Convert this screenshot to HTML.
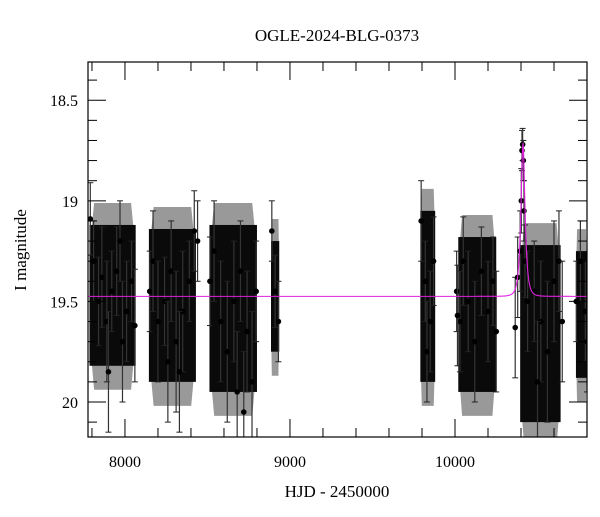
<!DOCTYPE html>
<html><head><meta charset="utf-8"><style>
body{margin:0;background:#fff}
text{font-family:"Liberation Serif","DejaVu Serif",serif}
</style></head><body>
<svg id="chart" width="600" height="512" font-family="Liberation Serif, serif">
<text x="337" y="41" text-anchor="middle" font-size="17" font-family="Liberation Serif, serif">OGLE-2024-BLG-0373</text>
<text x="337" y="497" text-anchor="middle" font-size="17" font-family="Liberation Serif, serif">HJD - 2450000</text>
<text x="26" y="250" text-anchor="middle" font-size="17" font-family="Liberation Serif, serif" transform="rotate(-90 26 250)">I magnitude</text>
<g id="data"></g>
<g id="axes"></g>
</svg>
<script>
const xTicks=[8000,9000,10000];
const yTicks=[18.5,19,19.5,20];
const yTickLabels=["18.5","19","19.5","20"];
// seasons: dense core bands
const seasonStart=[7785,8145,8512,8885,9790,10020,10395,10733];
const seasonEnd=[8065,8430,8800,8935,9880,10250,10640,10800];
const seasonTop=[19.12,19.14,19.12,19.2,19.05,19.18,19.22,19.25];
const seasonBot=[19.82,19.9,19.95,19.75,19.9,19.95,20.1,19.88];
// individual observations (time, mag, error)
const obsT=[7790,7810,7840,7860,7890,7920,7950,7985,8010,8040,8060,7900,7970,
8150,8170,8200,8240,8280,8310,8350,8390,8420,8440,8260,8330,
8515,8540,8580,8620,8660,8700,8740,8770,8795,8680,8720,
8890,8910,8930,9795,9820,9850,9870,9830,
10010,10030,10050,10080,10120,10160,10200,10230,10250,10015,
10365,10380,10395,10402,10406,10410,10414,10418,10424,10440,10480,10520,10560,10600,10630,10650,10500,
10735,10760,10790,10800];
const obsM=[19.09,19.3,19.5,19.38,19.6,19.45,19.35,19.7,19.55,19.4,19.62,19.85,19.2,
19.45,19.3,19.6,19.5,19.35,19.7,19.55,19.4,19.15,19.2,19.8,19.85,
19.4,19.25,19.6,19.75,19.5,19.35,19.65,19.9,19.45,19.95,20.05,
19.15,19.45,19.6,19.1,19.4,19.6,19.3,19.75,
19.45,19.6,19.3,19.5,19.7,19.35,19.55,19.4,19.65,19.57,
19.63,19.38,19.25,19.0,18.75,18.72,18.8,19.05,19.3,19.5,19.45,19.6,19.75,19.4,19.3,19.6,19.9,
19.5,19.3,19.55,19.7];
const obsE=[0.18,0.2,0.22,0.25,0.3,0.2,0.22,0.3,0.25,0.2,0.28,0.3,0.2,
0.2,0.25,0.3,0.22,0.25,0.35,0.3,0.2,0.2,0.2,0.3,0.3,
0.22,0.25,0.3,0.35,0.3,0.25,0.3,0.35,0.25,0.3,0.3,
0.15,0.18,0.2,0.2,0.2,0.25,0.22,0.25,
0.2,0.25,0.22,0.25,0.3,0.22,0.25,0.22,0.3,0.25,
0.25,0.2,0.2,0.16,0.1,0.08,0.1,0.15,0.18,0.25,0.25,0.3,0.35,0.3,0.25,0.3,0.3,
0.2,0.2,0.25,0.25];
// PSPL model parameters
const modelT0=10412, modelU0=0.55, modelTE=20, modelBase=19.475;

const L=88,R=587,T=62,B=437;
const xMin=7776,xMax=10800,yMin=18.31,yMax=20.174;
const X=t=>L+(t-xMin)/(xMax-xMin)*(R-L);
const Y=m=>T+(m-yMin)/(yMax-yMin)*(B-T);
const NS="http://www.w3.org/2000/svg";
const dataG=document.getElementById('data'),axG=document.getElementById('axes');
function mk(tag,attrs,parent){const e=document.createElementNS(NS,tag);for(const k in attrs)e.setAttribute(k,attrs[k]);parent.appendChild(e);return e;}
const clip=mk('clipPath',{id:'pc'},document.getElementById('chart'));
mk('rect',{x:L,y:T,width:R-L,height:B-T},clip);
dataG.setAttribute('clip-path','url(#pc)');
for(let i=0;i<seasonStart.length;i++){
  const x1=X(seasonStart[i]),x2=X(seasonEnd[i]),y1=Y(seasonTop[i]),y2=Y(seasonBot[i]);
  const w=x2-x1;
  const wb=mk('path',{d:`M${x1+w*0.05},${y1+2} L${x1+w*0.1},${y1-22} L${x1+w*0.9},${y1-22} L${x2-w*0.05},${y1+2} Z M${x1+w*0.05},${y2-2} L${x1+w*0.1},${y2+24} L${x1+w*0.9},${y2+24} L${x2-w*0.05},${y2-2} Z`,fill:'#555',opacity:0.6},dataG);
  
  
  const r=mk('rect',{x:x1,y:y1,width:w,height:y2-y1,fill:'#0a0a0a'},dataG);
  
  
}
for(let i=0;i<obsT.length;i++){
  const x=X(obsT[i]),y=Y(obsM[i]),y1=Y(obsM[i]-obsE[i]),y2=Y(obsM[i]+obsE[i]);
  const g=mk('g',{},dataG);
  
  
  mk('line',{x1:x,x2:x,y1:y1,y2:y2,stroke:'#333','stroke-width':1.2},g);
  mk('line',{x1:x-3,x2:x+3,y1:y1,y2:y1,stroke:'#222','stroke-width':1},g);
  mk('line',{x1:x-3,x2:x+3,y1:y2,y2:y2,stroke:'#222','stroke-width':1},g);
  mk('circle',{cx:x,cy:y,r:2.8,fill:'#000'},g);
}
let d='';
for(let px=L;px<=R;px+=0.5){
  const t=xMin+(px-L)/(R-L)*(xMax-xMin);
  const tau=(t-modelT0)/modelTE,u=Math.sqrt(modelU0*modelU0+tau*tau);
  const A=(u*u+2)/(u*Math.sqrt(u*u+4));
  const m=modelBase-2.5*Math.log10(A);
  d+=(d?'L':'M')+px.toFixed(1)+','+Y(m).toFixed(2);
}
const ml=mk('path',{d:d,fill:'none',stroke:'#e020e0','stroke-width':1.1},dataG);


const fr=mk('rect',{x:L,y:T,width:R-L,height:B-T,fill:'none',stroke:'#000','stroke-width':1.2},axG);


for(let t=7800;t<=xMax;t+=200){
  const x=X(t),maj=t%1000===0,len=maj?18:9;
  mk('line',{x1:x,x2:x,y1:B,y2:B-len,stroke:'#000'},axG);
  mk('line',{x1:x,x2:x,y1:T,y2:T+len,stroke:'#000'},axG);
}
xTicks.forEach(t=>{const e=mk('text',{x:X(t),y:B+30,'text-anchor':'middle','font-size':16,'font-family':'Liberation Serif, serif'},axG);e.textContent=t;
  
  });
for(let i=Math.ceil(yMin*10);i<=Math.floor(yMax*10);i++){
  const m=i/10,y=Y(m),maj=i%5===0,len=maj?18:9;
  mk('line',{x1:L,x2:L+len,y1:y,y2:y,stroke:'#000'},axG);
  mk('line',{x1:R,x2:R-len,y1:y,y2:y,stroke:'#000'},axG);
}
yTicks.forEach((m,i)=>{const e=mk('text',{x:L-10,y:Y(m)+6,'text-anchor':'end','font-size':16,'font-family':'Liberation Serif, serif'},axG);e.textContent=yTickLabels[i];
  
  });
</script>
</body></html>
